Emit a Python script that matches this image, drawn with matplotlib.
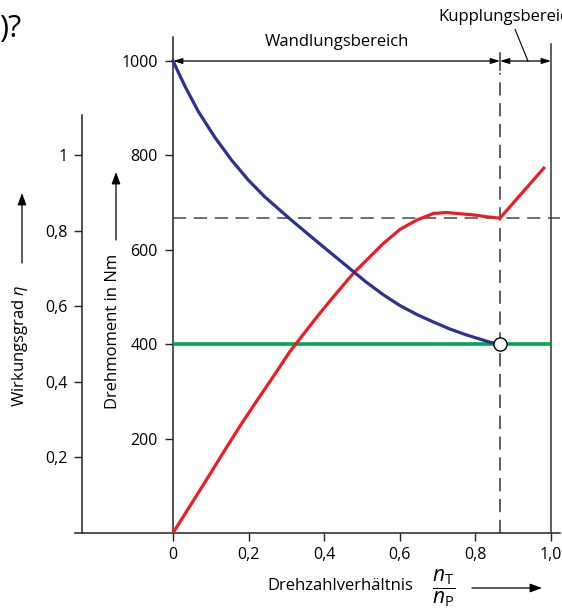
import matplotlib
matplotlib.use("Agg")
import matplotlib.pyplot as plt
from matplotlib.patches import FancyArrowPatch

plt.rcParams['font.family'] = ['Open Sans', 'DejaVu Sans']
plt.rcParams['mathtext.fontset'] = 'custom'
plt.rcParams['mathtext.rm'] = 'Open Sans'
plt.rcParams['mathtext.it'] = 'Open Sans:italic'
plt.rcParams['lines.scale_dashes'] = False

# -------- data --------
ratio_ticks = [0, 0.2, 0.4, 0.6, 0.8, 1.0]
ratio_labels = ['0', '0,2', '0,4', '0,6', '0,8', '1,0']
torque_ticks = [200, 400, 600, 800, 1000]
torque_labels = ['200', '400', '600', '800', '1000']
eta_ticks = [0.2, 0.4, 0.6, 0.8, 1.0]
eta_labels = ['0,2', '0,4', '0,6', '0,8', '1']

# pump torque (blue)
pump_x = [0, 0.032, 0.067, 0.111, 0.155, 0.199, 0.243, 0.31, 0.38, 0.424, 0.477,
          0.512, 0.556, 0.6, 0.645, 0.689, 0.733, 0.775, 0.815, 0.839, 0.865]
pump_T = [1000, 946, 893, 838, 790, 748, 712, 665, 618, 589, 554,
          531, 505, 482, 463, 447, 432, 420, 410, 404, 400]

# turbine torque (red)
turb_x = [0, 0.044, 0.088, 0.132, 0.176, 0.22, 0.265, 0.309, 0.38, 0.424, 0.477,
          0.512, 0.556, 0.6, 0.645, 0.689, 0.724, 0.75, 0.794, 0.83, 0.865, 0.981]
turb_T = [0, 56, 112, 169, 225, 278, 331, 384, 457, 500, 550,
          578, 613, 643, 663, 677, 679, 677, 674, 670, 667, 773]

# reference torque (green)
ref_x = [0, 1.0]
ref_T = [400, 400]

coupling_point = 0.865
eta_max_level = 667

# -------- figure --------
W, H = 562, 614
fig = plt.figure(figsize=(W / 100, H / 100), dpi=100)

def px(x, y):
    return (x / W, 1 - y / H)

x0_px, x_scale = 173, 378.0
y0_px, y_scale = 533, 0.472
left_px, right_px, top_px = 75, 560, 37

ax = fig.add_axes([left_px / W, 1 - y0_px / H, (right_px - left_px) / W, (y0_px - top_px) / H])
ax.set_xlim((left_px - x0_px) / x_scale, (right_px - x0_px) / x_scale)
ax.set_ylim(0, (y0_px - top_px) / y_scale)

axc = '#222222'
for s in ['top', 'right']:
    ax.spines[s].set_visible(False)
ax.spines['left'].set_position(('data', 0))
for s in ['left', 'bottom']:
    ax.spines[s].set_color(axc)
    ax.spines[s].set_linewidth(1.1)

ax.set_xticks(ratio_ticks, ratio_labels)
ax.set_yticks(torque_ticks, torque_labels)
ax.tick_params(axis='both', direction='out', length=6, width=1, color=axc, labelsize=11.5)
ax.tick_params(axis='x', pad=4)
ax.tick_params(axis='y', pad=5)

# curves
ax.plot(ref_x, ref_T, color='#00A651', lw=2.6, solid_capstyle='butt', zorder=3)
ax.plot(turb_x, turb_T, color='#ED1C24', lw=2.3, zorder=4)
ax.plot(pump_x, pump_T, color='#2E3192', lw=2.3, zorder=5)
ax.plot([coupling_point], [400], 'o', ms=9.5, mfc='white', mec='black', mew=1, zorder=6)

# guide lines
ax.plot([0, ax.get_xlim()[1]], [eta_max_level, eta_max_level], color='#555555', lw=1.2,
        dashes=(9.5, 5.5), zorder=2)
ax.plot([coupling_point, coupling_point], [0, 975], color='#333333', lw=1.1,
        dashes=(9.5, 5.5), zorder=2)
ax.plot([coupling_point, coupling_point], [980, 1018], color='#333333', lw=1.1, zorder=2)
ax.plot([1.0, 1.0], [0, 1035], color='#333333', lw=1.1, zorder=2)

# range arrows
astyle = dict(arrowstyle='<|-|>,head_length=0.55,head_width=0.17', color='black', lw=0.9,
              shrinkA=0, shrinkB=0)
ax.annotate('', xy=(0, 1000), xytext=(coupling_point, 1000), arrowprops=astyle)
ax.annotate('', xy=(coupling_point, 1000), xytext=(1.0, 1000), arrowprops=astyle)
ax.text(0.435, 1040, 'Wandlungsbereich', ha='center', va='center', fontsize=12)
ax.plot([0.905, 0.939], [1067, 1000], color='black', lw=0.8, clip_on=False)
fig.text(*px(438, 17), 'Kupplungsbereich', ha='left', va='center', fontsize=12)

# efficiency axis
ax2 = fig.add_axes([82 / W, 1 - y0_px / H, 0.0001, (y0_px - 115) / H])
ax2.set_ylim(0, (y0_px - 115) / 378.0)
for s in ['top', 'right', 'bottom']:
    ax2.spines[s].set_visible(False)
ax2.spines['left'].set_color(axc)
ax2.spines['left'].set_linewidth(1.1)
ax2.set_xticks([])
ax2.set_yticks(eta_ticks, eta_labels)
ax2.tick_params(axis='y', direction='out', length=6, width=1, color=axc, labelsize=11.5, pad=4)
ax2.patch.set_visible(False)

# axis labels
fig.text(*px(113, 331), 'Drehmoment in Nm', rotation=90, ha='center', va='center', fontsize=12)
fig.text(*px(20, 346), r'Wirkungsgrad $\eta$', rotation=90, ha='center', va='center', fontsize=12)
larrow = dict(arrowstyle='-|>,head_length=0.6,head_width=0.22', color='black', lw=0.9,
              shrinkA=0, shrinkB=0, mutation_scale=12)
for a, b in [((116, 240), (116, 172)), ((22, 263), (22, 193)), ((472, 588), (542, 588))]:
    fig.add_artist(FancyArrowPatch(px(*a), px(*b), transform=fig.transFigure, **larrow))

fig.text(*px(340, 586), 'Drehzahlverhältnis', ha='center', va='center', fontsize=12)
fig.text(*px(444, 588), r'$\dfrac{n_{\mathrm{T}}}{n_{\mathrm{P}}}$', ha='center', va='center',
         fontsize=15)

# cut-off question text at the top left
fig.text(*px(-1, 29), ')?', ha='left', va='center', fontsize=22)

fig.savefig('out.png', dpi=100)
